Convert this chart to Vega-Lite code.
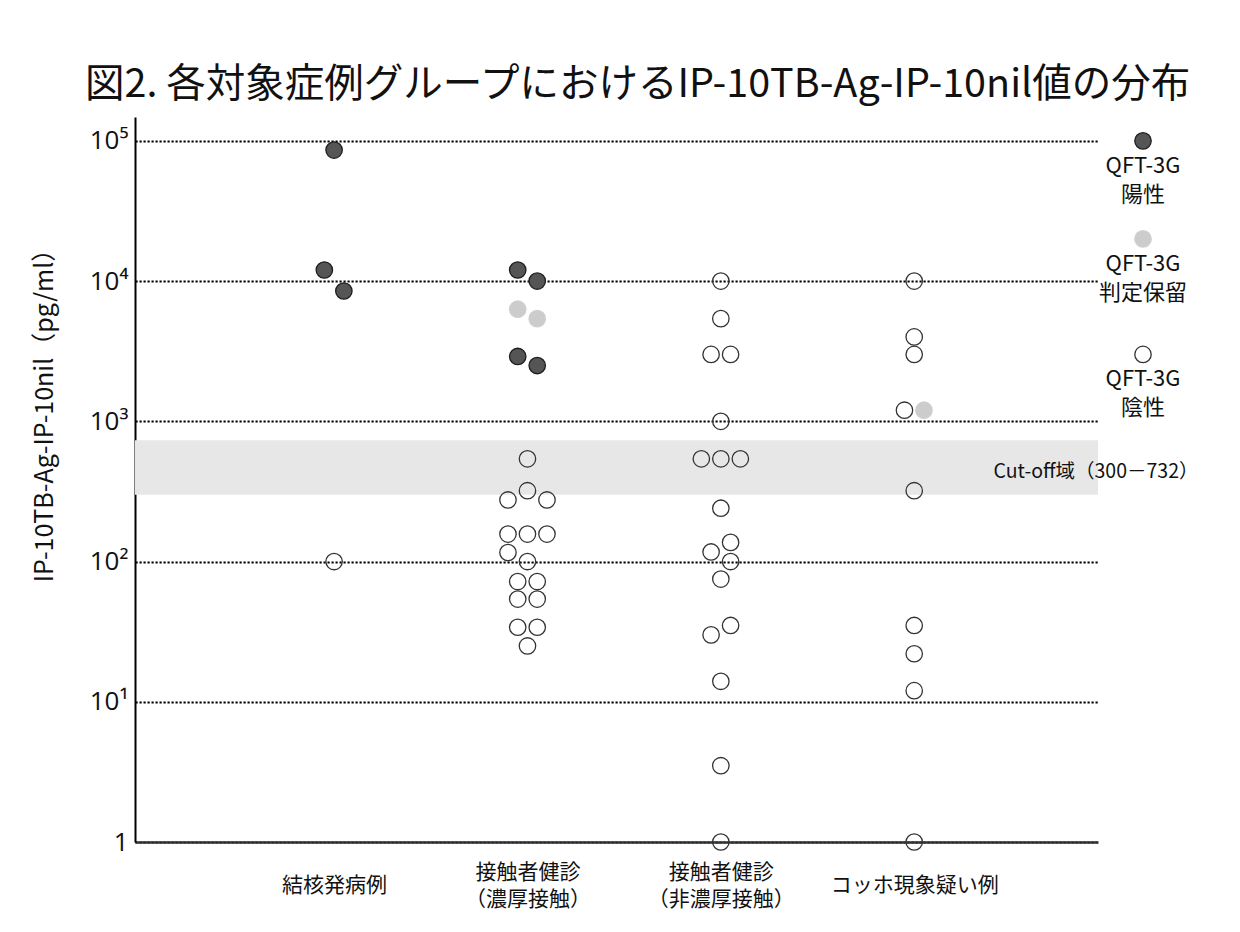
{
  "$schema": "https://vega.github.io/schema/vega-lite/v6.json",
  "background": "white",
  "padding": {"left": 32, "top": 64, "right": 5, "bottom": 5},
  "title": {
    "text": "図2. 各対象症例グループにおけるIP-10TB-Ag-IP-10nil値の分布",
    "anchor": "start",
    "frame": "group",
    "font": "Noto Sans CJK JP",
    "fontSize": 39.5,
    "fontWeight": "normal",
    "color": "#111111",
    "dx": -50,
    "offset": 12
  },
  "config": {
    "view": {"stroke": null},
    "font": "Noto Sans CJK JP"
  },
  "datasets": {
    "cases": [
      {"group": "結核発病例", "value": 86000, "qft": "陽性", "slot": 0},
      {"group": "結核発病例", "value": 12000, "qft": "陽性", "slot": -1},
      {"group": "結核発病例", "value": 8500, "qft": "陽性", "slot": 1},
      {"group": "結核発病例", "value": 100, "qft": "陰性", "slot": 0},

      {"group": "接触者健診\n（濃厚接触）", "value": 12000, "qft": "陽性", "slot": -1},
      {"group": "接触者健診\n（濃厚接触）", "value": 10000, "qft": "陽性", "slot": 1},
      {"group": "接触者健診\n（濃厚接触）", "value": 6300, "qft": "判定保留", "slot": -1},
      {"group": "接触者健診\n（濃厚接触）", "value": 5400, "qft": "判定保留", "slot": 1},
      {"group": "接触者健診\n（濃厚接触）", "value": 2900, "qft": "陽性", "slot": -1},
      {"group": "接触者健診\n（濃厚接触）", "value": 2500, "qft": "陽性", "slot": 1},
      {"group": "接触者健診\n（濃厚接触）", "value": 540, "qft": "陰性", "slot": 0},
      {"group": "接触者健診\n（濃厚接触）", "value": 320, "qft": "陰性", "slot": 0},
      {"group": "接触者健診\n（濃厚接触）", "value": 275, "qft": "陰性", "slot": -2},
      {"group": "接触者健診\n（濃厚接触）", "value": 275, "qft": "陰性", "slot": 2},
      {"group": "接触者健診\n（濃厚接触）", "value": 157, "qft": "陰性", "slot": -2},
      {"group": "接触者健診\n（濃厚接触）", "value": 157, "qft": "陰性", "slot": 0},
      {"group": "接触者健診\n（濃厚接触）", "value": 157, "qft": "陰性", "slot": 2},
      {"group": "接触者健診\n（濃厚接触）", "value": 116, "qft": "陰性", "slot": -2},
      {"group": "接触者健診\n（濃厚接触）", "value": 100, "qft": "陰性", "slot": 0},
      {"group": "接触者健診\n（濃厚接触）", "value": 72, "qft": "陰性", "slot": -1},
      {"group": "接触者健診\n（濃厚接触）", "value": 72, "qft": "陰性", "slot": 1},
      {"group": "接触者健診\n（濃厚接触）", "value": 54, "qft": "陰性", "slot": -1},
      {"group": "接触者健診\n（濃厚接触）", "value": 54, "qft": "陰性", "slot": 1},
      {"group": "接触者健診\n（濃厚接触）", "value": 34, "qft": "陰性", "slot": -1},
      {"group": "接触者健診\n（濃厚接触）", "value": 34, "qft": "陰性", "slot": 1},
      {"group": "接触者健診\n（濃厚接触）", "value": 25, "qft": "陰性", "slot": 0},

      {"group": "接触者健診\n（非濃厚接触）", "value": 10000, "qft": "陰性", "slot": 0},
      {"group": "接触者健診\n（非濃厚接触）", "value": 5400, "qft": "陰性", "slot": 0},
      {"group": "接触者健診\n（非濃厚接触）", "value": 3000, "qft": "陰性", "slot": -1},
      {"group": "接触者健診\n（非濃厚接触）", "value": 3000, "qft": "陰性", "slot": 1},
      {"group": "接触者健診\n（非濃厚接触）", "value": 1000, "qft": "陰性", "slot": 0},
      {"group": "接触者健診\n（非濃厚接触）", "value": 540, "qft": "陰性", "slot": -2},
      {"group": "接触者健診\n（非濃厚接触）", "value": 540, "qft": "陰性", "slot": 0},
      {"group": "接触者健診\n（非濃厚接触）", "value": 540, "qft": "陰性", "slot": 2},
      {"group": "接触者健診\n（非濃厚接触）", "value": 240, "qft": "陰性", "slot": 0},
      {"group": "接触者健診\n（非濃厚接触）", "value": 137, "qft": "陰性", "slot": 1},
      {"group": "接触者健診\n（非濃厚接触）", "value": 117, "qft": "陰性", "slot": -1},
      {"group": "接触者健診\n（非濃厚接触）", "value": 100, "qft": "陰性", "slot": 1},
      {"group": "接触者健診\n（非濃厚接触）", "value": 75, "qft": "陰性", "slot": 0},
      {"group": "接触者健診\n（非濃厚接触）", "value": 35, "qft": "陰性", "slot": 1},
      {"group": "接触者健診\n（非濃厚接触）", "value": 30, "qft": "陰性", "slot": -1},
      {"group": "接触者健診\n（非濃厚接触）", "value": 14, "qft": "陰性", "slot": 0},
      {"group": "接触者健診\n（非濃厚接触）", "value": 3.5, "qft": "陰性", "slot": 0},
      {"group": "接触者健診\n（非濃厚接触）", "value": 1, "qft": "陰性", "slot": 0},

      {"group": "コッホ現象疑い例", "value": 10000, "qft": "陰性", "slot": 0},
      {"group": "コッホ現象疑い例", "value": 4000, "qft": "陰性", "slot": 0},
      {"group": "コッホ現象疑い例", "value": 3000, "qft": "陰性", "slot": 0},
      {"group": "コッホ現象疑い例", "value": 1200, "qft": "陰性", "slot": -1},
      {"group": "コッホ現象疑い例", "value": 1200, "qft": "判定保留", "slot": 1},
      {"group": "コッホ現象疑い例", "value": 320, "qft": "陰性", "slot": 0},
      {"group": "コッホ現象疑い例", "value": 35, "qft": "陰性", "slot": 0},
      {"group": "コッホ現象疑い例", "value": 22, "qft": "陰性", "slot": 0},
      {"group": "コッホ現象疑い例", "value": 12, "qft": "陰性", "slot": 0},
      {"group": "コッホ現象疑い例", "value": 1, "qft": "陰性", "slot": 0}
    ],
    "cutoff": [
      {"low": 300, "high": 732, "mid": 469, "label": "Cut-off域（300－732）"}
    ],
    "key": [
      {"qft": "陽性", "value": 100000, "label": "QFT-3G\n陽性"},
      {"qft": "判定保留", "value": 20000, "label": "QFT-3G\n判定保留"},
      {"qft": "陰性", "value": 3000, "label": "QFT-3G\n陰性"}
    ]
  },
  "bounds": "flush",
  "spacing": 0,
  "hconcat": [
    {
      "width": 963,
      "height": 725,
      "layer": [
        {
          "data": {"name": "cutoff"},
          "mark": {"type": "rect", "color": "#e7e7e7"},
          "encoding": {
            "y": {
              "field": "low",
              "type": "quantitative",
              "scale": {"type": "log", "domain": [1, 148000], "nice": false},
              "axis": {
                "title": "IP-10TB-Ag-IP-10nil（pg/ml）",
                "titleFont": "Noto Sans CJK JP",
                "titleFontSize": 25,
                "titleFontWeight": "normal",
                "titleColor": "#111111",
                "titlePadding": 32,
                "titleY": 292,
                "values": [1, 10, 100, 1000, 10000, 100000],
                "labelExpr": "datum.value >= 100000 ? '10⁵' : datum.value >= 10000 ? '10⁴' : datum.value >= 1000 ? '10³' : datum.value >= 100 ? '10²' : datum.value >= 10 ? '10¹' : '1'",
                "labelFont": "Open Sans",
                "labelFontSize": 26,
                "labelColor": "#111111",
                "labelPadding": 7,
                "ticks": false,
                "domainColor": "#000000",
                "domainWidth": 2,
                "grid": true,
                "gridColor": "#000000",
                "gridWidth": 2.2,
                "gridDash": [2.2, 1.8]
              }
            },
            "y2": {"field": "high"}
          }
        },
        {
          "data": {"name": "cases"},
          "mark": {"type": "point", "shape": "circle", "filled": false, "size": 270, "strokeWidth": 1.3, "opacity": 1},
          "encoding": {
            "x": {
              "field": "group",
              "type": "nominal",
              "sort": ["結核発病例", "接触者健診\n（濃厚接触）", "接触者健診\n（非濃厚接触）", "コッホ現象疑い例"],
              "scale": {
                "type": "point",
                "domain": ["結核発病例", "接触者健診\n（濃厚接触）", "接触者健診\n（非濃厚接触）", "コッホ現象疑い例"],
                "padding": 0.99,
                "align": 0.52
              },
              "axis": {
                "title": null,
                "labelExpr": "split(datum.label, '\\n')",
                "labelAngle": 0,
                "labelFont": "Noto Sans CJK JP",
                "labelFontSize": 21,
                "labelColor": "#111111",
                "labelBaseline": "middle",
                "labelLineHeight": 27,
                "labelPadding": {"condition": {"test": "indexof(datum.value, '（') >= 0", "value": 30}, "value": 43},
                "ticks": false,
                "domainColor": "#333333",
                "domainWidth": 2.5,
                "grid": false
              }
            },
            "xOffset": {
              "field": "slot",
              "type": "ordinal",
              "scale": {"type": "point", "domain": [-2, -1, 0, 1, 2], "range": [-19.5, 19.5], "padding": 0}
            },
            "y": {"field": "value", "type": "quantitative"},
            "fill": {
              "field": "qft",
              "type": "nominal",
              "scale": {"domain": ["陽性", "判定保留", "陰性"], "range": ["#555555", "#cccccc", "transparent"]},
              "legend": null
            },
            "stroke": {
              "field": "qft",
              "type": "nominal",
              "scale": {"domain": ["陽性", "判定保留", "陰性"], "range": ["#1e1e1e", "#cfcfcf", "#333333"]},
              "legend": null
            }
          }
        }
      ]
    },
    {
      "width": 90,
      "height": 725,
      "layer": [
        {
          "data": {"name": "key"},
          "mark": {"type": "point", "shape": "circle", "size": 270, "strokeWidth": 1.3, "opacity": 1},
          "encoding": {
            "y": {
              "field": "value",
              "type": "quantitative",
              "scale": {"type": "log", "domain": [1, 148000], "nice": false},
              "axis": null
            },
            "fill": {"field": "qft", "type": "nominal", "legend": null},
            "stroke": {"field": "qft", "type": "nominal", "legend": null}
          }
        },
        {
          "data": {"name": "key"},
          "mark": {"type": "text", "font": "Noto Sans CJK JP", "fontSize": 22, "color": "#111111", "baseline": "top", "align": "center", "dy": 15, "lineBreak": "\n", "lineHeight": 29},
          "encoding": {
            "y": {"field": "value", "type": "quantitative"},
            "text": {"field": "label"}
          }
        },
        {
          "data": {"name": "cutoff"},
          "mark": {"type": "text", "font": "Noto Sans CJK JP", "fontSize": 19.5, "color": "#111111", "baseline": "middle", "align": "center", "dx": -47, "dy": 5},
          "encoding": {
            "y": {"field": "mid", "type": "quantitative"},
            "text": {"field": "label"}
          }
        }
      ]
    }
  ]
}
